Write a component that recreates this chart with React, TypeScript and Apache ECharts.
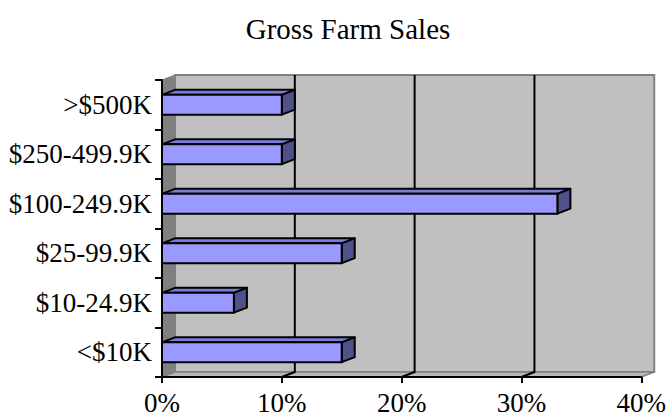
import React, { useEffect, useRef } from "react";
import * as echarts from "echarts";

const categories = ["<$10K", "$10-24.9K", "$25-99.9K", "$100-249.9K", "$250-499.9K", ">$500K"];
const shares = [15, 6, 15, 33, 10, 10];
const xTicks = [0, 10, 20, 30, 40];
const titleText = "Gross Farm Sales";

const DX = 13;
const DY = -5;
const FONT = "'Liberation Serif', 'Times New Roman', serif";

export default function App() {
  const ref = useRef<HTMLDivElement>(null);
  useEffect(() => {
    if (!ref.current) return;
    const chart = echarts.init(ref.current, undefined, { renderer: "svg" });
    const barData = shares.map((v, i) => [v, i]);
    const option: any = {
      animation: false,
      backgroundColor: "#ffffff",
      title: {
        text: titleText,
        left: 343,
        top: 9,
        textAlign: "center",
        textStyle: { fontFamily: FONT, fontSize: 29, fontWeight: "normal", color: "#000" },
      },
      grid: { left: 162, top: 80, right: 21, bottom: 43, containLabel: false },
      xAxis: {
        type: "value",
        min: xTicks[0],
        max: xTicks[xTicks.length - 1],
        interval: 10,
        z: 5,
        axisLine: { show: true, lineStyle: { color: "#000", width: 2 } },
        axisTick: { show: true, length: 6, lineStyle: { color: "#000", width: 2 } },
        axisLabel: {
          formatter: "{value}%",
          fontFamily: FONT,
          fontSize: 27,
          color: "#000",
          margin: 12,
        },
        splitLine: { show: false },
      },
      yAxis: {
        type: "category",
        data: categories,
        z: 5,
        axisLine: { show: true, lineStyle: { color: "#000", width: 2 } },
        axisTick: { show: true, length: 7, lineStyle: { color: "#000", width: 2 } },
        axisLabel: { fontFamily: FONT, fontSize: 27, color: "#000", margin: 10 },
        splitLine: { show: false },
      },
      series: [
        {
          type: "custom",
          z: 1,
          clip: false,
          silent: true,
          data: [[0, 0]],
          encode: { x: 0, y: 1 },
          renderItem: (params: any, api: any) => {
            const cs = params.coordSys;
            const l = cs.x;
            const t = cs.y;
            const r = cs.x + cs.width;
            const b = cs.y + cs.height;
            const children: any[] = [
              {
                type: "rect",
                shape: { x: l + DX, y: t + DY, width: cs.width, height: cs.height },
                style: { fill: "#c0c0c0", stroke: "#808080", lineWidth: 2 },
              },
              {
                type: "polygon",
                shape: { points: [[l, t], [l + DX, t + DY], [l + DX, b + DY], [l, b]] },
                style: { fill: "#808080", stroke: "#808080", lineWidth: 1 },
              },
              {
                type: "polygon",
                shape: { points: [[l, b], [l + DX, b + DY], [r + DX, b + DY], [r, b]] },
                style: { fill: "#b8b8b8", stroke: "#808080", lineWidth: 1.5 },
              },
            ];
            xTicks.slice(1, -1).forEach((v) => {
              const x = api.coord([v, 0])[0];
              children.push({
                type: "polyline",
                shape: { points: [[x + DX, t + DY], [x + DX, b + DY], [x, b]] },
                style: { fill: "none", stroke: "#000", lineWidth: 2 },
              });
            });
            return { type: "group", children };
          },
        },
        {
          type: "custom",
          z: 2,
          clip: false,
          data: barData,
          encode: { x: 0, y: 1 },
          renderItem: (params: any, api: any) => {
            const v = api.value(0);
            const c = api.value(1);
            const [x1, yc] = api.coord([v, c]);
            const x0 = api.coord([0, c])[0];
            const band = api.size([0, 1])[1];
            const h = band * 0.4;
            const yt = yc - h / 2;
            const yb = yc + h / 2;
            const stroke = { stroke: "#000", lineWidth: 2, lineJoin: "round" };
            return {
              type: "group",
              children: [
                {
                  type: "polygon",
                  shape: { points: [[x0, yt], [x0 + DX, yt + DY], [x1 + DX, yt + DY], [x1, yt]] },
                  style: { fill: "#7b7bdb", ...stroke },
                },
                {
                  type: "polygon",
                  shape: { points: [[x1, yt], [x1 + DX, yt + DY], [x1 + DX, yb + DY], [x1, yb]] },
                  style: { fill: "#50508a", ...stroke },
                },
                {
                  type: "rect",
                  shape: { x: x0, y: yt, width: x1 - x0, height: h },
                  style: { fill: "#9999ff", ...stroke },
                },
              ],
            };
          },
        },
      ],
    };
    chart.setOption(option);
    return () => chart.dispose();
  }, []);
  return (
    <div
      ref={ref}
      style={{ position: "fixed", left: 0, top: 0, width: 669, height: 420, background: "#fff" }}
    />
  );
}
